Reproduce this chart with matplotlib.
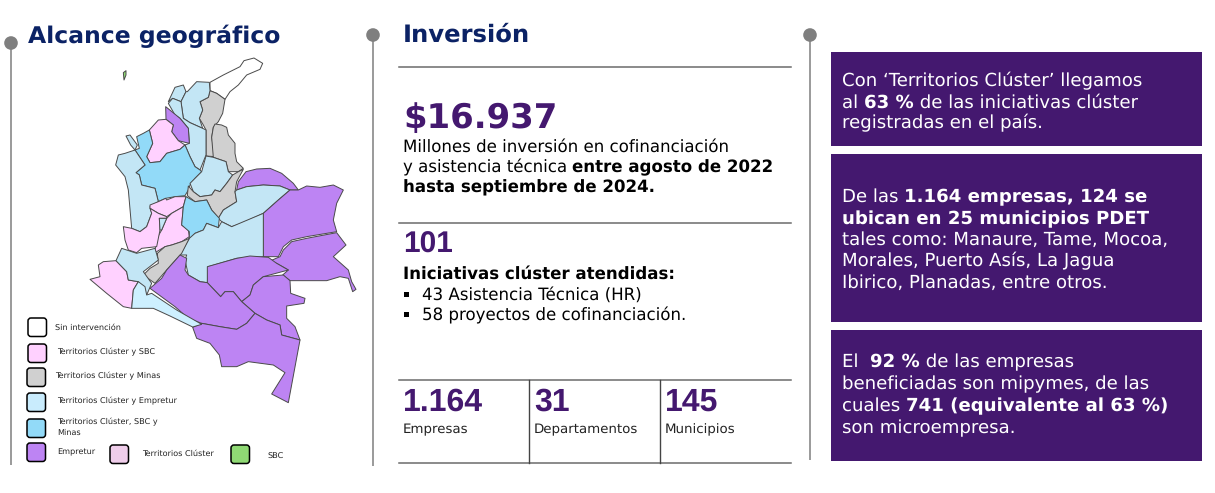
import matplotlib
matplotlib.use('Agg')
import matplotlib.pyplot as plt
from matplotlib.patches import Polygon, FancyBboxPatch, Circle, Rectangle

plt.rcParams['text.hinting'] = 'no_hinting'

NAVY = '#0b2265'
PURPLE = '#44186f'
LINE = '#7f7f7f'

# map colours
WHITE = '#ffffff'
PINK = '#ffd1ff'
GRAY = '#d0d0d0'
LIGHT = '#c3e6f5'
LIGHTER = '#cdf0ff'
BLUE = '#92daf8'
VIOLET = '#bd84f3'
GREEN = '#8fd974'

# regions: crop 1 starts at (100,50), crop 2 at (100,220), crop 4 at (90,230), all 3x
north = [
    (WHITE, [(330,97),(370,75),(420,50),(432,32),(462,24),(488,40),(480,58),(440,75),(415,105),(390,125),(375,148),(350,130),(330,122)]),
    (GRAY, [(330,122),(350,130),(375,148),(368,190),(355,215),(340,232),(335,262),(345,320),(318,318),(318,240),(310,225),(298,205),(308,180),(300,155),(325,142)]),
    (GRAY, [(340,232),(345,222),(365,225),(380,232),(385,255),(405,280),(405,310),(410,335),(430,355),(415,365),(385,365),(378,335),(340,322),(335,262)]),
    (LIGHT, [(205,155),(225,112),(250,105),(258,125),(243,155),(218,145)]),
    (LIGHT, [(262,125),(290,95),(328,97),(330,122),(325,142),(300,155),(308,180),(298,205),(308,235),(270,218),(250,205),(243,155),(258,125)]),
    (LIGHT, [(205,160),(218,145),(243,155),(250,205),(270,218),(308,235),(318,240),(318,315),(300,360),(285,350),(270,320),(255,285),(268,280),(265,235),(240,205),(225,195)]),
    (VIOLET, [(197,170),(207,178),(240,205),(265,235),(268,280),(235,272),(215,245),(220,225),(198,208)]),
    (PINK, [(148,240),(175,210),(198,208),(220,225),(215,245),(235,272),(255,285),(240,298),(200,310),(180,335),(150,338),(140,320),(158,280)]),
    (BLUE, [(110,260),(130,250),(148,240),(158,280),(140,320),(150,338),(180,335),(200,310),(240,298),(255,285),(270,320),(285,350),(300,360),(305,365),(285,385),(270,405),(265,420),(255,437),(225,440),(197,445),(175,455),(165,415),(125,405),(118,375),(108,368),(135,345),(105,300),(118,295)]),
    (LIGHT, [(47,345),(55,315),(75,310),(105,300),(135,345),(108,368),(118,375),(125,405),(165,415),(175,455),(150,470),(155,490),(140,530),(120,545),(95,535),(85,420),(75,380)]),
    (LIGHT, [(78,258),(90,255),(112,285),(105,300),(92,285)]),
    (LIGHT, [(270,400),(285,385),(305,365),(318,318),(340,322),(378,335),(385,365),(398,375),(380,400),(360,425),(345,420),(335,435),(300,440),(280,425)]),
    (GRAY, [(398,375),(415,365),(430,358),(410,395),(405,425),(410,455),(370,480),(355,505),(335,480),(320,450),(285,455),(262,437),(265,408),(280,425),(300,440),(335,435),(345,420),(360,425),(380,400)]),
    (VIOLET, [(438,365),(470,357),(510,355),(545,370),(580,400),(595,420),(570,420),(540,408),(490,405),(440,410),(410,420),(415,395)]),
    (LIGHT, [(410,420),(440,410),(490,405),(540,408),(570,420),(535,450),(490,490),(425,520),(395,530),(365,515),(355,505),(370,480),(410,455),(405,425)]),
    (PINK, [(150,465),(175,455),(197,445),(200,450),(225,440),(258,440),(250,470),(215,490),(200,500),(175,490),(150,475)]),
    (PINK, [(215,490),(250,470),(245,525),(265,540),(268,560),(245,575),(215,585),(195,590),(165,608),(168,570),(185,540),(200,505)]),
    (PINK, [(70,530),(95,535),(120,545),(140,530),(155,490),(150,475),(175,490),(200,500),(200,505),(178,505),(180,540),(170,590),(125,595),(110,608),(85,600),(75,570)]),
    (LIGHT, [(178,505),(200,505),(185,540),(180,540)]),
    (BLUE, [(258,440),(285,455),(320,450),(335,480),(358,505),(355,533),(320,520),(310,540),(285,550),(268,568),(268,545),(245,525),(250,470)]),
    (VIOLET, [(570,420),(595,420),(620,408),(660,412),(700,405),(730,420),(710,460),(700,510),(710,545),(680,550),(620,560),(575,570),(550,590),(535,620),(490,620),(490,490),(535,450)]),
    (GREEN, [(70,68),(78,62),(78,75),(72,90)]),
]
south = [
    (LIGHT, [(285,40),(310,30),(320,10),(355,23),(365,5),(395,20),(490,-20),(490,110),(410,115),(325,140),(322,188),(300,185),(265,165),(255,120),(260,105),(240,105),(268,55)]),
    (GRAY, [(172,100),(195,80),(215,75),(245,65),(268,55),(245,100),(200,150),(165,190),(130,165),(150,145),(175,130)]),
    (VIOLET, [(540,110),(550,90),(575,65),(620,55),(710,38),(738,75),(700,110),(745,150),(755,185),(768,208),(758,215),(745,175),(720,170),(680,182),(570,182),(548,165),(565,150),(530,130),(505,125)]),
    (VIOLET, [(322,140),(410,115),(450,108),(505,112),(530,130),(565,150),(490,170),(460,195),(450,225),(425,245),(400,215),(375,215),(362,230),(322,188)]),
    (VIOLET, [(425,245),(450,225),(460,195),(490,170),(550,165),(570,182),(572,220),(615,235),(612,250),(560,258),(560,295),(585,320),(600,360),(545,345),(540,315),(500,300),(465,280)]),
    (VIOLET, [(240,105),(260,115),(255,150),(265,165),(300,185),(322,188),(362,230),(375,215),(400,215),(425,245),(465,280),(440,310),(410,328),(360,320),(305,310),(265,295),(225,260),(150,205),(185,175),(200,150)]),
    (VIOLET, [(278,322),(305,310),(360,320),(410,328),(440,310),(465,280),(500,300),(540,315),(545,345),(600,360),(565,548),(515,522),(555,458),(520,435),(445,425),(410,440),(365,440),(358,405),(330,370),(290,355)]),
]
southwest = [
    (PINK, [(0,148),(30,140),(25,105),(40,95),(78,92),(110,125),(115,150),(145,155),(130,180),(125,235),(100,230),(50,190)]),
    (LIGHT, [(78,92),(95,55),(140,70),(195,55),(205,90),(160,125),(185,160),(170,195),(160,175),(145,155),(115,150),(110,125)]),
    (LIGHTER, [(130,180),(145,155),(165,170),(170,195),(185,190),(260,240),(335,283),(308,291),(240,258),(190,235),(125,235)]),
]

legend_labels = ['Sin intervención', 'Territorios Clúster y SBC', 'Territorios Clúster y Minas',
                 'Territorios Clúster y Empretur', 'Territorios Clúster, SBC y\nMinas', 'Empretur',
                 'Territorios Clúster', 'SBC']
legend_colors = [WHITE, PINK, GRAY, '#c9ecfd', BLUE, VIOLET, '#efcdea', GREEN]
legend_boxes = [(28,318), (28,344), (27,368), (27,393), (27,419), (27,443), (110,445), (231,445)]
legend_text = [(55,328), (57,352), (55,376), (57,401), (57,427), (57,452), (142,454), (267,457)]

box_lines = [
    [[('Con ‘Territorios Clúster’ llegamos', False)],
     [('al ', False), ('63 %', True), (' de las iniciativas clúster', False)],
     [('registradas en el país.', False)]],
    [[('De las ', False), ('1.164 empresas, 124 se', True)],
     [('ubican en 25 municipios PDET', True)],
     [('tales como: Manaure, Tame, Mocoa,', False)],
     [('Morales, Puerto Asís, La Jagua', False)],
     [('Ibirico, Planadas, entre otros.', False)]],
    [[('El  ', False), ('92 %', True), (' de las empresas', False)],
     [('beneficiadas son mipymes, de las', False)],
     [('cuales ', False), ('741 (equivalente al 63 %)', True)],
     [('son microempresa.', False)]],
]
box_spans = [(52,146), (154,322), (330,461)]
box_baselines = [[86,108,128], [202,224,245,266,288], [367,389,411,433]]

stat_values = ['1.164', '31', '145']
stat_labels = ['Empresas', 'Departamentos', 'Municipios']
stat_x = [403, 534, 665]

fig = plt.figure(figsize=(12.15, 4.93), dpi=100)
ax = fig.add_axes([0, 0, 1, 1])
ax.set_xlim(0, 1215)
ax.set_ylim(493, 0)
ax.axis('off')


def draw_regions(regions, x0, y0):
    for color, pts in regions:
        pts = [(x0 + x / 3, y0 + y / 3) for x, y in pts]
        ax.add_patch(Polygon(pts, closed=True, fc=color, ec='#4a4a4a', lw=0.7, joinstyle='round'))


def run_width(s, **kw):
    # measure with a guard so spaces at the end count
    r = fig.canvas.get_renderer()
    a = ax.text(0, 0, s + '|', **kw)
    b = ax.text(0, 0, '|', **kw)
    w = a.get_window_extent(r).width - b.get_window_extent(r).width
    a.remove()
    b.remove()
    return w


def draw_runs(x, y, runs, size, color):
    for s, bold in runs:
        kw = dict(fontsize=size, fontweight='bold' if bold else 'normal', family='DejaVu Sans', color=color)
        ax.text(x, y, s, va='baseline', ha='left', **kw)
        x += run_width(s, **kw)


# timeline markers
for x, top, bottom in [(11, 43, 465), (373, 35, 466), (810, 35, 460)]:
    ax.plot([x, x], [top, bottom], color=LINE, lw=1.1, solid_capstyle='butt')
    ax.add_patch(Circle((x, top), 6.8, fc=LINE, ec='none', zorder=3))

# titles
ax.text(28, 43, 'Alcance geográfico', fontsize=16.9, fontweight='bold', color=NAVY, family='DejaVu Sans')
ax.text(403, 42, 'Inversión', fontsize=17.5, fontweight='bold', color=NAVY, family='DejaVu Sans')

# map
draw_regions(north, 100, 50)
draw_regions(south, 100, 220)
draw_regions(southwest, 90, 230)

# legend
for (x, y), c in zip(legend_boxes, legend_colors):
    ax.add_patch(FancyBboxPatch((x + 3, y + 3), 12.5, 12.5, boxstyle='round,pad=3', fc=c, ec='black', lw=1.1))
for (x, y), s in zip(legend_text, legend_labels):
    ax.text(x, y, s, fontsize=5.85, va='center', color='#222222', family='DejaVu Sans', linespacing=1.4)

# center column
for y in [66.5, 223, 380, 463]:
    ax.plot([399, 791], [y, y], color='#6b6b6b', lw=1.1)
for x in [529, 660]:
    ax.plot([x, x], [380, 463], color='#444444', lw=1)

ax.text(403, 128, '$16.937', fontsize=24.4, fontweight='bold', color=PURPLE, family='DejaVu Sans')
draw_runs(403, 152, [('Millones de inversión en cofinanciación', False)], 12, 'black')
draw_runs(403, 172, [('y asistencia técnica ', False), ('entre agosto de 2022', True)], 12, 'black')
draw_runs(403, 192, [('hasta septiembre de 2024.', True)], 12, 'black')

ax.text(403, 253, '101', fontsize=21.5, fontweight='bold', color=PURPLE, family='Liberation Sans')
draw_runs(403, 279, [('Iniciativas clúster atendidas:', True)], 12, 'black')
for y, s in [(300, '43 Asistencia Técnica (HR)'), (320, '58 proyectos de cofinanciación.')]:
    ax.add_patch(Rectangle((404, y - 8), 5, 5, fc='black', ec='none'))
    draw_runs(422, y, [(s, False)], 12, 'black')

for x, v, s in zip(stat_x, stat_values, stat_labels):
    ax.text(x, 411, v, fontsize=23, fontweight='bold', color=PURPLE, family='Liberation Sans')
    ax.text(x, 433, s, fontsize=9.6, color='#222222', family='DejaVu Sans')

# right column
for (top, bottom), lines, ys in zip(box_spans, box_lines, box_baselines):
    ax.add_patch(Rectangle((831, top), 371, bottom - top, fc=PURPLE, ec='none'))
    for y, runs in zip(ys, lines):
        draw_runs(842, y, runs, 13.1, 'white')

fig.savefig('out.png', dpi=100)
